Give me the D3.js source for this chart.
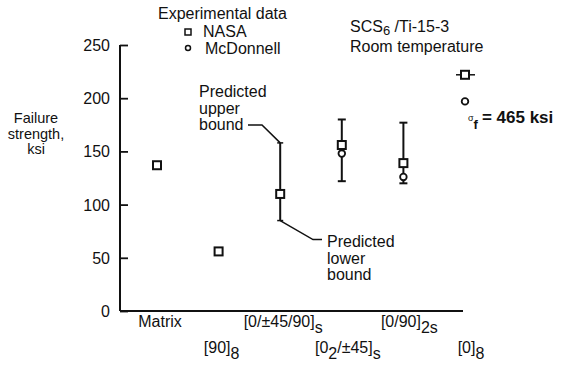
<!DOCTYPE html>
<html><head><meta charset="utf-8">
<script src="https://cdn.jsdelivr.net/npm/d3@7"></script>
<style>
html,body{margin:0;padding:0;background:#fff;}
svg text{font-family:"Liberation Sans",Arial,Helvetica,sans-serif;fill:#111;}
</style></head><body>
<svg id="c" width="569" height="368"></svg>
<script>
// ---- data ----
const categories = ["Matrix","[90]8","[0/±45/90]s","[02/±45]s","[0/90]2s","[0]8"];
// label segments: [text, isSubscript]
const categoryLabels = [
  [["Matrix",0]],
  [["[90]",0],["8",1]],
  [["[0/±45/90]",0],["s",1]],
  [["[0",0],["2",1],["/±45]",0],["s",1]],
  [["[0/90]",0],["2s",1]],
  [["[0]",0],["8",1]]
];
const labelRow = [0,1,0,1,0,1];
const nasaValues = [137, 56, 110, 156, 139, 222];
const mcdonnellValues = [null, null, null, 148, 126, 197];
const upperBound = [null, null, 158, 180, 177, null];
const lowerBound = [null, null, 85, 122, 120, null];
const yTicks = [0, 50, 100, 150, 200, 250];

// ---- scales ----
const svg = d3.select("#c");
const x = d3.scalePoint().domain(categories).range([157, 465]);
const y = d3.scaleLinear().domain([0, 250]).range([311, 45]);
const ink = "#111";

// axes
const yAxis = svg.append("g").attr("transform","translate(120,0)")
  .call(d3.axisRight(y).tickValues(yTicks).tickSize(8).tickFormat(""));
yAxis.select(".domain").attr("stroke",ink).attr("stroke-width",2).attr("d","M0,"+y(250)+"V"+y(0));
yAxis.selectAll(".tick line").attr("stroke",ink).attr("stroke-width",1.8);
svg.append("g").selectAll("text").data(yTicks).join("text")
  .attr("x",110).attr("y",d=>y(d)+6).attr("text-anchor","end")
  .attr("font-size",16).text(d=>d);

svg.append("line").attr("x1",120).attr("x2",463).attr("y1",y(0)).attr("y2",y(0))
  .attr("stroke",ink).attr("stroke-width",2);

// x labels
const xl = svg.append("g").selectAll("text").data(categories).join("text")
  .attr("x",(d,i)=>x(d)+(i>2?6:3))
  .attr("y",(d,i)=>labelRow[i]?353:327)
  .attr("text-anchor","middle").attr("font-size",16);
xl.each(function(d,i){
  const t = d3.select(this);
  categoryLabels[i].forEach((seg,j)=>{
    const prev = j>0 ? categoryLabels[i][j-1][1] : 0;
    const ts = t.append("tspan").text(seg[0]);
    if(seg[1] && !prev) ts.attr("dy",6);
    if(!seg[1] && prev) ts.attr("dy",-6);
  });
});

// y title
["Failure","strength,","ksi"].forEach((s,i)=>svg.append("text")
  .attr("text-anchor","middle").attr("font-size",14.5)
  .attr("x",36).attr("y",123+i*15.5).text(s));

// error bars
const eb = categories.map((c,i)=>({c,lo:lowerBound[i],hi:upperBound[i]})).filter(d=>d.hi!=null);
svg.append("g").selectAll("line").data(eb).join("line")
  .attr("x1",d=>x(d.c)).attr("x2",d=>x(d.c)).attr("y1",d=>y(d.hi)).attr("y2",d=>y(d.lo))
  .attr("stroke",ink).attr("stroke-width",2);
const caps = eb.filter(d=>d.c!==categories[2]).flatMap(d=>[{c:d.c,v:d.hi},{c:d.c,v:d.lo}]);
svg.append("g").selectAll("line").data(caps).join("line")
  .attr("x1",d=>x(d.c)-4).attr("x2",d=>x(d.c)+4).attr("y1",d=>y(d.v)).attr("y2",d=>y(d.v))
  .attr("stroke",ink).attr("stroke-width",2);
// small caps at predicted bounds
svg.append("g").selectAll("line").data([eb[0].hi,eb[0].lo]).join("line")
  .attr("x1",x(categories[2])-3).attr("x2",x(categories[2])+3).attr("y1",d=>y(d)).attr("y2",d=>y(d))
  .attr("stroke",ink).attr("stroke-width",1.5);

// [0]8 horizontal spread marker
const c8 = categories[5];
svg.append("line").attr("x1",x(c8)-9).attr("x2",x(c8)+10).attr("y1",y(nasaValues[5])).attr("y2",y(nasaValues[5]))
  .attr("stroke",ink).attr("stroke-width",1.5);

// NASA squares
const nasa = categories.map((c,i)=>({c,v:nasaValues[i]})).filter(d=>d.v!=null);
svg.append("g").selectAll("rect").data(nasa).join("rect")
  .attr("x",d=>x(d.c)-4).attr("y",d=>y(d.v)-4).attr("width",8).attr("height",8)
  .attr("fill","#fff").attr("stroke",ink).attr("stroke-width",2);
// McDonnell circles
const mcd = categories.map((c,i)=>({c,v:mcdonnellValues[i]})).filter(d=>d.v!=null);
svg.append("g").selectAll("circle").data(mcd).join("circle")
  .attr("cx",d=>x(d.c)).attr("cy",d=>y(d.v)).attr("r",3.3)
  .attr("fill","#fff").attr("stroke",ink).attr("stroke-width",1.8);

// annotations: predicted upper / lower bound
const cA = x(categories[2]);
svg.append("path").attr("d",`M248,${y(eb[0].hi)-18}H262L${cA},${y(eb[0].hi)}`)
  .attr("fill","none").attr("stroke",ink).attr("stroke-width",1.5);
svg.append("path").attr("d",`M${cA},${y(eb[0].lo)}L313,${y(eb[0].lo)+19}H322`)
  .attr("fill","none").attr("stroke",ink).attr("stroke-width",1.5);
const up = svg.append("text").attr("font-size",16);
["Predicted","upper","bound"].forEach((s,i)=>up.append("tspan").attr("x",199).attr("y",97+i*16.5).text(s));
const lo = svg.append("text").attr("font-size",16);
["Predicted","lower","bound"].forEach((s,i)=>lo.append("tspan").attr("x",327).attr("y",247+i*16.5).text(s));

// legend
svg.append("text").attr("x",158).attr("y",19).attr("font-size",16).text("Experimental data");
svg.append("rect").attr("x",185).attr("y",29).attr("width",6).attr("height",6).attr("fill","#fff").attr("stroke",ink).attr("stroke-width",1.5);
svg.append("text").attr("x",203).attr("y",37).attr("font-size",16).text("NASA");
svg.append("circle").attr("cx",188).attr("cy",48).attr("r",2.5).attr("fill","#fff").attr("stroke",ink).attr("stroke-width",1.5);
svg.append("text").attr("x",205).attr("y",54).attr("font-size",16).text("McDonnell");

// material note
const m = svg.append("text").attr("x",350).attr("y",32).attr("font-size",16);
m.append("tspan").text("SCS");
m.append("tspan").attr("dy",3).attr("font-size",13).text("6");
m.append("tspan").attr("dy",-3).text(" /Ti-15-3");
svg.append("text").attr("x",350).attr("y",52).attr("font-size",16).text("Room temperature");

// sigma_f note
const s = svg.append("text").attr("x",468).attr("y",121).attr("font-size",16).attr("font-weight","bold");
s.append("tspan").attr("font-size",9).attr("font-weight","normal").text("σ");
s.append("tspan").attr("dy",8).attr("font-size",13).text("f");
s.append("tspan").attr("dy",-6).attr("dx",4).attr("font-size",17).text("= 465 ksi");
</script>
</body></html>
